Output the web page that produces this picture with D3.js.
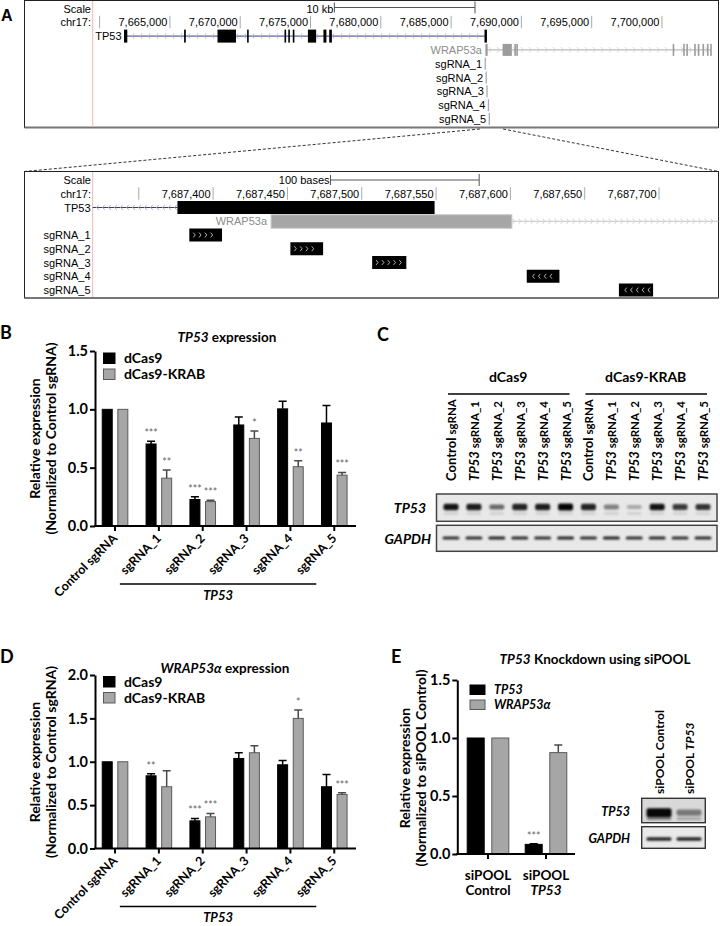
<!DOCTYPE html>
<html><head><meta charset="utf-8">
<script src="https://cdn.jsdelivr.net/npm/d3@7"></script>
<style>body{margin:0;background:#fff}svg{display:block}</style>
</head><body><svg id="c" width="720" height="926"></svg>
<script>
// ================= DATA =================
// Panel A – genome browser (top, 10 kb view)
const topWindow = [7659508, 7704020];
const topTicks = [7660000,7665000,7670000,7675000,7680000,7685000,7690000,7695000,7700000];
const topTickLabels = ["","7,665,000","7,670,000","7,675,000","7,680,000","7,685,000","7,690,000","7,695,000","7,700,000"];
const topScaleBar = [7676700, 7686700];
const topScaleLabel = "10 kb";
const tp53Span = [7661735, 7687549];
const tp53Exons = [[7661735,7661970],[7666010,7666130],[7668385,7669700],[7670490,7670590],[7673150,7673240],[7673420,7673500],[7673740,7673820],[7674815,7675400],[7675920,7676130],[7676330,7676520],[7687376,7687549]];
const wrapSpan = [7687439, 7703500];
const wrapExons = [[7687439,7687601],[7688660,7689320],[7689500,7689580],[7689640,7689720],[7700760,7700830],[7701510,7701570],[7701730,7701790],[7702290,7702350],[7702550,7702610],[7702880,7702940],[7703200,7703260],[7703430,7703500]];
const geneNames = ["TP53","WRAP53a"];
const sgNames = ["sgRNA_1","sgRNA_2","sgRNA_3","sgRNA_4","sgRNA_5"];
const sgStarts = [7687384,7687452,7687507,7687611,7687673];
const sgEnds = [7687406,7687474,7687530,7687633,7687696];
const sgStrand = [1,1,1,-1,-1];
const connectorPos = [7687050, 7688700];
// Panel A – zoomed view (100 bases)
const zoomWindow = [7687319, 7687740];
const zoomTicks = [7687350,7687400,7687450,7687500,7687550,7687600,7687650,7687700];
const zoomTickLabels = ["","7,687,400","7,687,450","7,687,500","7,687,550","7,687,600","7,687,650","7,687,700"];
const zoomScaleBar = [7687479, 7687579];
const zoomScaleLabel = "100 bases";
const zoomTP53Exon = [7687376, 7687549];
const zoomWrapExon = [7687439, 7687601];

// Panels B & D – qPCR bars
const barCats = ["Control","sgRNA_1","sgRNA_2","sgRNA_3","sgRNA_4","sgRNA_5"];
const barLabels = ["Control  sgRNA","sgRNA_1","sgRNA_2","sgRNA_3","sgRNA_4","sgRNA_5"];
const seriesNames = ["dCas9","dCas9-KRAB"];
const bTicks = [0,0.5,1.0,1.5];
const tp53Cas9 = [1.0,0.703,0.227,0.866,1.004,0.883];
const tp53Cas9Err = [0,0.023,0.023,0.069,0.066,0.149];
const tp53Cas9Sig = ["","***","***","","",""];
const tp53Krab = [1.0,0.410,0.209,0.751,0.508,0.436];
const tp53KrabErr = [0,0.069,0.012,0.063,0.051,0.023];
const tp53KrabSig = ["","**","***","*","**","***"];
const dTicks = [0,0.5,1.0,1.5,2.0];
const wrapCas9 = [1.0,0.838,0.319,1.038,0.965,0.712];
const wrapCas9Err = [0,0.024,0.027,0.066,0.050,0.142];
const wrapCas9Sig = ["","**","***","","",""];
const wrapKrab = [1.0,0.712,0.365,1.104,1.500,0.623];
const wrapKrabErr = [0,0.184,0.039,0.081,0.096,0.019];
const wrapKrabSig = ["","","***","","*","***"];

// Panel C – western blot
const cGroups = ["dCas9","dCas9-KRAB"];
const cLaneGene = ["Control","TP53","TP53","TP53","TP53","TP53"];
const cLaneGuide = ["sgRNA","sgRNA_1","sgRNA_2","sgRNA_3","sgRNA_4","sgRNA_5"];
const cTP53Band = [0.92,0.88,0.55,0.85,0.88,0.98,0.85,0.45,0.28,0.92,0.75,0.78];
const cGapdhBand = [0.8,0.8,0.85,0.82,0.8,0.85,0.8,0.85,0.8,0.82,0.8,0.82];

// Panel E – siPOOL
const eCats = ["siPOOL Control","siPOOL TP53"];
const eSeries = ["TP53","WRAP53α"];
const eTicks = [0,0.5,1.0,1.5];
const eTP53 = [1.0,0.083];
const eTP53Err = [0,0.006];
const eTP53Sig = ["","***"];
const eWrap = [1.0,0.874];
const eWrapErr = [0,0.066];
const eWrapSig = ["",""];
const eTP53Band = [0.97,0.45];
const eGapdhBand = [0.85,0.85];

// ================= DRAW =================
const FONT = "Lato, 'Open Sans', sans-serif";
const UFONT = "'Liberation Sans', Arial, sans-serif";
const svg = d3.select("#c");
svg.append("rect").attr("width",720).attr("height",926).attr("fill","#fff");
const defs = svg.append("defs");
defs.append("filter").attr("id","blur").attr("x","-50%").attr("y","-150%").attr("width","200%").attr("height","400%")
  .append("feGaussianBlur").attr("stdDeviation",0.9);

function chevrons(g, xa, xb, y, dir, color, step, h, sw) {
  const xs = d3.range(xa + step/2, xb - 1, step);
  const w = h*0.8;
  g.append("path")
    .attr("d", xs.map(x => dir < 0 ? `M${x+w},${y-h}L${x},${y}L${x+w},${y+h}` : `M${x-w},${y-h}L${x},${y}L${x-w},${y+h}`).join(""))
    .attr("fill","none").attr("stroke",color).attr("stroke-width",sw||1);
}

// ---------- Panel A ----------
svg.append("text").attr("x",1).attr("y",21).attr("font-family",UFONT).attr("font-weight",700).attr("font-size",16).text("A");
const A = svg.append("g").attr("font-family",UFONT).attr("font-size",11);
const LX = 24.5, RX = 718.5, PX = 92.7;

const xTop = d3.scaleLinear().domain(topWindow).range([PX, RX]);
const rowT = i => 8.5 + 13.8*i;
A.append("rect").attr("x",LX).attr("y",0.5).attr("width",RX-LX).attr("height",127).attr("fill","none").attr("stroke","#222");
A.append("line").attr("x1",LX).attr("x2",RX).attr("y1",127.5).attr("y2",127.5).attr("stroke","#777").attr("stroke-width",2);
A.append("line").attr("x1",PX).attr("x2",PX).attr("y1",1).attr("y2",127).attr("stroke","#f4b6b6");
A.append("text").attr("x",91).attr("y",rowT(0)+4).attr("text-anchor","end").text("Scale");
{
  const a = xTop(topScaleBar[0]), b = xTop(topScaleBar[1]), yy = rowT(0)-1;
  A.append("path").attr("d",`M${a},${yy-5}V${yy+5}M${a},${yy}H${b}M${b},${yy-6}V${yy+6}`).attr("stroke","#555").attr("fill","none");
  A.append("text").attr("x",a-1).attr("y",rowT(0)+4).attr("text-anchor","end").text(topScaleLabel);
}
A.append("text").attr("x",91).attr("y",rowT(1)+4).attr("text-anchor","end").text("chr17:");
A.selectAll("line.tt").data(topTicks).join("line").attr("class","tt")
  .attr("x1",d=>xTop(d)).attr("x2",d=>xTop(d)).attr("y1",rowT(1)-6.5).attr("y2",rowT(1)+6).attr("stroke","#aaa");
A.selectAll("text.tl").data(topTicks).join("text").attr("class","tl")
  .attr("x",d=>xTop(d)-2.5).attr("y",rowT(1)+4).attr("text-anchor","end").text((d,i)=>topTickLabels[i]);
{
  const yy = rowT(2), a = xTop(tp53Span[0]), b = xTop(tp53Span[1]);
  A.append("line").attr("x1",a).attr("x2",b).attr("y1",yy).attr("y2",yy).attr("stroke","#3a3a78");
  chevrons(A, a+4, b, yy, -1, "#b2b2ea", 8, 2.6, 1);
  A.selectAll("rect.tx").data(tp53Exons).join("rect").attr("class","tx")
    .attr("x",d=>xTop(d[0])).attr("width",d=>Math.max(1.6, xTop(d[1])-xTop(d[0])))
    .attr("y",yy-6.5).attr("height",13).attr("fill","#000");
  A.append("text").attr("x",a-2.5).attr("y",yy+4).attr("text-anchor","end").text(geneNames[0]);
}
{
  const yy = rowT(3), a = xTop(wrapSpan[0]), b = xTop(wrapSpan[1]);
  A.append("line").attr("x1",a).attr("x2",b).attr("y1",yy).attr("y2",yy).attr("stroke","#aaa");
  chevrons(A, a+2, b, yy, 1, "#cfcfcf", 8, 2.6, 1);
  A.selectAll("rect.wx").data(wrapExons).join("rect").attr("class","wx")
    .attr("x",d=>xTop(d[0])).attr("width",d=>Math.max(1.6, xTop(d[1])-xTop(d[0])))
    .attr("y",yy-6).attr("height",12).attr("fill","#9c9c9c");
  A.append("text").attr("x",a-3.5).attr("y",yy+4).attr("text-anchor","end").attr("fill","#8c8c8c").text(geneNames[1]);
}
sgNames.forEach((n,i)=>{
  const yy = rowT(4+i), a = xTop(sgStarts[i]);
  A.append("rect").attr("x",a).attr("width",Math.max(1.3, xTop(sgEnds[i])-a)).attr("y",yy-6).attr("height",12).attr("fill","#aaa");
  A.append("text").attr("x",a-2.5).attr("y",yy+4).attr("text-anchor","end").text(n);
});
{
  const yTopB = 129, yBotT = 171.5;
  A.append("path").attr("d",`M${xTop(connectorPos[0])},${yTopB}L${LX},${yBotT}M${xTop(connectorPos[1])},${yTopB}L${RX},${yBotT}`)
    .attr("stroke","#333").attr("stroke-dasharray","3,2").attr("fill","none");
}
const xBot = d3.scaleLinear().domain(zoomWindow).range([PX, RX]);
const rowB = i => 180 + 13.75*i;
A.append("rect").attr("x",LX).attr("y",171.5).attr("width",RX-LX).attr("height",126.5).attr("fill","none").attr("stroke","#222");
A.append("line").attr("x1",LX).attr("x2",RX).attr("y1",298).attr("y2",298).attr("stroke","#777").attr("stroke-width",2);
A.append("line").attr("x1",PX).attr("x2",PX).attr("y1",172).attr("y2",297).attr("stroke","#f4b6b6");
A.append("text").attr("x",91).attr("y",rowB(0)+4).attr("text-anchor","end").text("Scale");
{
  const a = xBot(zoomScaleBar[0]), b = xBot(zoomScaleBar[1]), yy = rowB(0);
  A.append("path").attr("d",`M${a},${yy-5}V${yy+5}M${a},${yy}H${b}M${b},${yy-6}V${yy+6}`).attr("stroke","#555").attr("fill","none");
  A.append("text").attr("x",a-1).attr("y",yy+4).attr("text-anchor","end").text(zoomScaleLabel);
}
A.append("text").attr("x",91).attr("y",rowB(1)+4).attr("text-anchor","end").text("chr17:");
A.selectAll("line.bt").data(zoomTicks).join("line").attr("class","bt")
  .attr("x1",d=>xBot(d)).attr("x2",d=>xBot(d)).attr("y1",rowB(1)-6.5).attr("y2",rowB(1)+6).attr("stroke","#aaa");
A.selectAll("text.bl").data(zoomTicks).join("text").attr("class","bl")
  .attr("x",d=>xBot(d)-2.5).attr("y",rowB(1)+4).attr("text-anchor","end").text((d,i)=>zoomTickLabels[i]);
{
  const yy = rowB(2), a = xBot(zoomTP53Exon[0]), b = xBot(zoomTP53Exon[1]);
  A.append("line").attr("x1",PX).attr("x2",a).attr("y1",yy).attr("y2",yy).attr("stroke","#3a3a78");
  chevrons(A, PX+1, a, yy, -1, "#b2b2ea", 6, 2.6, 1);
  A.append("rect").attr("x",a).attr("width",b-a).attr("y",yy-6.5).attr("height",13).attr("fill","#000");
  A.append("text").attr("x",90.5).attr("y",yy+4).attr("text-anchor","end").text(geneNames[0]);
}
{
  const yy = rowB(3), a = xBot(zoomWrapExon[0]), b = xBot(zoomWrapExon[1]);
  A.append("line").attr("x1",b).attr("x2",RX).attr("y1",yy).attr("y2",yy).attr("stroke","#c4c4c4");
  chevrons(A, b, RX, yy, 1, "#d2d2d2", 6, 2.6, 1);
  A.append("rect").attr("x",a).attr("width",b-a).attr("y",yy-6.5).attr("height",13.5).attr("fill","#a6a6a6").attr("stroke","#c8c8c8");
  A.append("text").attr("x",a-4).attr("y",yy+4).attr("text-anchor","end").attr("fill","#8c8c8c").text(geneNames[1]);
}
sgNames.forEach((n,i)=>{
  const yy = rowB(4+i), a = xBot(sgStarts[i]), b = xBot(sgEnds[i]);
  A.append("rect").attr("x",a).attr("width",b-a).attr("y",yy-6.5).attr("height",13).attr("fill","#000");
  chevrons(A, a+3, b-3, yy, sgStrand[i], "#ddd", 5.8, 2.4, 0.8);
  A.append("text").attr("x",90.5).attr("y",yy+4).attr("text-anchor","end").text(n);
});

// ---------- bar chart helper ----------
function barPanel(o) {
  const g = svg.append("g").attr("font-family",FONT);
  const x0 = d3.scaleBand().domain(o.cats).range(o.xRange);
  const x1 = d3.scaleBand().domain(o.series).range(o.inner).paddingInner(o.innerPad);
  const y = d3.scaleLinear().domain(o.yDomain).range(o.yRange);
  const fills = ["#000","#a6a6a6"], strokes = ["#000","#5a5a5a"], errC = ["#000","#4a4a4a"];
  o.series.forEach((s,si)=>{
    const data = o.cats.map((c,i)=>({c, v:o.vals[si][i], e:o.errs[si][i], sig:o.sigs[si][i]}));
    const gs = g.append("g");
    gs.selectAll("rect").data(data).join("rect")
      .attr("x",d=>x0(d.c)+x1(s)+0.5).attr("y",d=>y(d.v)).attr("width",x1.bandwidth()-1)
      .attr("height",d=>y(0)-y(d.v)).attr("fill",fills[si]).attr("stroke",strokes[si]).attr("stroke-width",1);
    gs.selectAll("path.err").data(data.filter(d=>d.e>0)).join("path").attr("class","err")
      .attr("d",d=>{const cx=x0(d.c)+x1(s)+x1.bandwidth()/2, yt=y(d.v+d.e); return `M${cx},${y(d.v)}V${yt}M${cx-4},${yt}H${cx+4}`;})
      .attr("stroke",errC[si]).attr("stroke-width",1.5).attr("fill","none");
    gs.selectAll("text.sig").data(data.filter(d=>d.sig)).join("text").attr("class","sig")
      .attr("x",d=>x0(d.c)+x1(s)+x1.bandwidth()/2).attr("y",d=>y(d.v+d.e)-4)
      .attr("text-anchor","middle").attr("font-size",10.5).attr("fill","#666").text(d=>d.sig);
  });
  const ya = g.append("g").attr("transform",`translate(${o.yAxisX},0)`)
    .call(d3.axisLeft(y).tickValues(o.yTicks).tickFormat(d3.format(".1f")).tickSize(5).tickSizeOuter(0).tickPadding(2));
  ya.select(".domain").attr("stroke-width",2);
  ya.selectAll(".tick line").attr("stroke-width",2);
  ya.selectAll("text").attr("font-family",FONT).attr("font-size",14.5).attr("font-weight",700);
  const xa = g.append("g").attr("transform",`translate(0,${y(0)})`).call(d3.axisBottom(x0).tickSize(5).tickFormat(""));
  xa.select(".domain").remove();
  xa.selectAll(".tick line").attr("stroke-width",2);
  g.append("line").attr("x1",o.yAxisX-1).attr("x2",o.xEnd).attr("y1",y(0)).attr("y2",y(0)).attr("stroke","#000").attr("stroke-width",2);
  return {g, x0, x1, y};
}
function legend(g, x, ys, names, italic, sq, fs) {
  names.forEach((n,i)=>{
    g.append("rect").attr("x",x).attr("y",ys[i]).attr("width",sq[0]).attr("height",sq[1])
      .attr("fill",i===0?"#000":"#a6a6a6").attr("stroke",i===0?"#000":"#5a5a5a");
    g.append("text").attr("x",x+sq[0]+9).attr("y",ys[i]+sq[1]/2+fs*0.36).attr("font-size",fs).attr("font-weight",700)
      .attr("font-style",italic?"italic":null).text(n);
  });
}
function yLabel(g, x, yc, l1, l2) {
  g.append("text").attr("transform",`translate(${x},${yc}) rotate(-90)`).attr("text-anchor","middle")
    .attr("font-size",14).attr("font-weight",700).text(l1);
  g.append("text").attr("transform",`translate(${x+15.5},${yc}) rotate(-90)`).attr("text-anchor","middle")
    .attr("font-size",14).attr("font-weight",700).text(l2);
}
function groupPanel(o) {
  const P = barPanel(o);
  const {g,x0,y} = P;
  const c = c0 => x0(c0)+x0.bandwidth()/2;
  g.selectAll("text.xl").data(o.cats).join("text").attr("class","xl")
    .attr("transform",d=>`translate(${c(d)+3},${y(0)+13}) rotate(-45)`)
    .attr("text-anchor","end").attr("font-size",12.5).attr("font-weight",700).text((d,i)=>barLabels[i]);
  const bx1 = c(o.cats[1])-39, bx2 = c(o.cats[5])-18, by = y(0)+58;
  g.append("line").attr("x1",bx1).attr("x2",bx2).attr("y1",by).attr("y2",by).attr("stroke","#000").attr("stroke-width",1.3);
  g.append("text").attr("x",(bx1+bx2)/2).attr("y",by+15.5).attr("text-anchor","middle").attr("font-size",13)
    .attr("font-weight",700).attr("font-style","italic").text("TP53");
  return P;
}

// ---------- Panel B ----------
{
  const P = groupPanel({cats:barCats, series:seriesNames, vals:[tp53Cas9,tp53Krab], errs:[tp53Cas9Err,tp53KrabErr],
    sigs:[tp53Cas9Sig,tp53KrabSig], xRange:[93.1,356.2], inner:[8.63,35.23], innerPad:0.295,
    yDomain:[0,1.5], yRange:[526,351], yTicks:bTicks, yAxisX:95, xEnd:356});
  const g = P.g;
  g.append("text").attr("x",0).attr("y",339).attr("font-size",18).attr("font-weight",700).text("B");
  const t = g.append("text").attr("x",227).attr("y",342).attr("text-anchor","middle").attr("font-size",13.5).attr("font-weight",700);
  t.append("tspan").attr("font-style","italic").text("TP53");
  t.append("tspan").text(" expression");
  legend(g, 103.5, [353,369], seriesNames, false, [11.5,10.5], 14);
  yLabel(g, 40, 438.5, "Relative expression", "(Normalized to Control sgRNA)");
}
// ---------- Panel D ----------
{
  const P = groupPanel({cats:barCats, series:seriesNames, vals:[wrapCas9,wrapKrab], errs:[wrapCas9Err,wrapKrabErr],
    sigs:[wrapCas9Sig,wrapKrabSig], xRange:[93.1,356.2], inner:[8.63,35.23], innerPad:0.295,
    yDomain:[0,2.0], yRange:[848.5,675], yTicks:dTicks, yAxisX:95, xEnd:356});
  const g = P.g;
  g.append("text").attr("x",0).attr("y",663).attr("font-size",18).attr("font-weight",700).text("D");
  const t = g.append("text").attr("x",225).attr("y",673).attr("text-anchor","middle").attr("font-size",13.5).attr("font-weight",700);
  t.append("tspan").attr("font-style","italic").text("WRAP53α");
  t.append("tspan").text(" expression");
  legend(g, 103.5, [676.5,692.5], seriesNames, false, [11.5,10.5], 14);
  yLabel(g, 40, 762, "Relative expression", "(Normalized to Control sgRNA)");
}
// ---------- Panel E ----------
{
  const P = barPanel({cats:eCats, series:eSeries, vals:[eTP53,eWrap], errs:[eTP53Err,eWrapErr], sigs:[eTP53Sig,eWrapSig],
    xRange:[459,575], inner:[7.7,50.3], innerPad:0.268, yDomain:[0,1.5], yRange:[854,680], yTicks:eTicks, yAxisX:457.3, xEnd:575});
  const {g,x0,y} = P;
  g.append("text").attr("x",391).attr("y",663).attr("font-size",18).attr("font-weight",700).text("E");
  const t = g.append("text").attr("x",595).attr("y",664).attr("text-anchor","middle").attr("font-size",13.5).attr("font-weight",700);
  t.append("tspan").attr("font-style","italic").text("TP53");
  t.append("tspan").text(" Knockdown using siPOOL");
  legend(g, 470, [685,700], eSeries, true, [15,9.5], 12.5);
  yLabel(g, 410, 768, "Relative expression", "(Normalized to siPOOL  Control)");
  eCats.forEach((c,i)=>{
    const cx = x0(c)+x0.bandwidth()/2;
    g.append("text").attr("x",cx).attr("y",880).attr("text-anchor","middle").attr("font-size",13.5).attr("font-weight",700).text("siPOOL");
    g.append("text").attr("x",cx).attr("y",894.5).attr("text-anchor","middle").attr("font-size",13.5).attr("font-weight",700)
      .attr("font-style",i===1?"italic":null).text(c.replace("siPOOL ",""));
  });
  const lanes = d3.scalePoint().domain(eCats).range([659,689]);
  eCats.forEach(c=>{
    const tx = g.append("text").attr("transform",`translate(${lanes(c)+4.5},794) rotate(-90)`).attr("font-size",12).attr("font-weight",700);
    const parts = c.split(" ");
    tx.append("tspan").text(parts[0]+" ");
    tx.append("tspan").attr("font-style",parts[1]==="TP53"?"italic":null).text(parts[1]);
  });
  const bx = lanes(eCats[0])-17.3, bw = lanes(eCats[1])-lanes(eCats[0])+33.6;
  g.append("rect").attr("x",bx).attr("y",798.3).attr("width",bw).attr("height",24.4).attr("fill","#d9d9d9").attr("stroke","#333").attr("stroke-width",1.4);
  g.append("rect").attr("x",bx).attr("y",826.7).attr("width",bw).attr("height",21.6).attr("fill","#e9e9e9").attr("stroke","#333").attr("stroke-width",1.4);
  const bands = g.append("g").attr("filter","url(#blur)");
  eCats.forEach((c,i)=>{
    const cx = lanes(c);
    bands.append("rect").attr("x",cx-12.5).attr("y",812.7-2-2.5*eTP53Band[i]).attr("width",25).attr("height",4+5*eTP53Band[i]).attr("rx",2)
      .attr("fill","#000").attr("opacity",eTP53Band[i]);
    bands.append("rect").attr("x",cx-12).attr("y",817.5).attr("width",24).attr("height",2.5).attr("fill","#000").attr("opacity",0.35*eTP53Band[i]+0.1);
    bands.append("rect").attr("x",cx-12.5).attr("y",837.2).attr("width",25).attr("height",3.6).attr("rx",1.5).attr("fill","#000").attr("opacity",eGapdhBand[i]);
  });
  g.append("text").attr("x",630).attr("y",816).attr("text-anchor","end").attr("font-size",12.5).attr("font-weight",700).attr("font-style","italic").text("TP53");
  g.append("text").attr("x",630).attr("y",843).attr("text-anchor","end").attr("font-size",12.5).attr("font-weight",700).attr("font-style","italic").text("GAPDH");
}
// ---------- Panel C ----------
{
  const g = svg.append("g").attr("font-family",FONT);
  g.append("text").attr("x",377).attr("y",341).attr("font-size",18).attr("font-weight",700).text("C");
  const laneIds = [];
  cGroups.forEach((gr,gi)=>cLaneGene.forEach((ge,li)=>laneIds.push({gi,li,id:gr+"|"+li})));
  const lane = d3.scalePoint().domain(laneIds.map(d=>d.id)).range([451,703]);
  cGroups.forEach((gr,gi)=>{
    const a = lane(gr+"|0"), b = lane(gr+"|"+(cLaneGene.length-1));
    g.append("text").attr("x",(a+b)/2).attr("y",381.5).attr("text-anchor","middle").attr("font-size",14).attr("font-weight",700).text(gr);
    g.append("line").attr("x1",a-3).attr("x2",b+4).attr("y1",394).attr("y2",394).attr("stroke","#000").attr("stroke-width",1.3);
  });
  laneIds.forEach(d=>{
    const tx = g.append("text").attr("transform",`translate(${lane(d.id)+5},481) rotate(-90)`).attr("font-size",13).attr("font-weight",700);
    tx.append("tspan").attr("font-style",cLaneGene[d.li]==="TP53"?"italic":null).text(cLaneGene[d.li]+" ");
    tx.append("tspan").attr("font-size",11.5).text(cLaneGuide[d.li]);
  });
  const x0 = lane(laneIds[0].id)-14.5, x1 = lane(laneIds[laneIds.length-1].id)+14;
  g.append("rect").attr("x",x0).attr("y",494).attr("width",x1-x0).attr("height",27.3).attr("fill","#e8e8e8").attr("stroke","#444").attr("stroke-width",1.5);
  g.append("rect").attr("x",x0).attr("y",525.3).attr("width",x1-x0).attr("height",26).attr("fill","#e8e8e8").attr("stroke","#444").attr("stroke-width",1.5);
  const bands = g.append("g").attr("filter","url(#blur)");
  laneIds.forEach((d,i)=>{
    const cx = lane(d.id), v = cTP53Band[i];
    bands.append("rect").attr("x",cx-7.5).attr("y",507-1.5-2*v).attr("width",15).attr("height",3+4*v).attr("rx",2)
      .attr("fill","#000").attr("opacity",v);
    bands.append("rect").attr("x",cx-7).attr("y",512.5).attr("width",14).attr("height",2).attr("fill","#000").attr("opacity",0.15);
    bands.append("rect").attr("x",cx-8.5).attr("y",536.6).attr("width",17).attr("height",3).attr("rx",1.5)
      .attr("fill","#000").attr("opacity",cGapdhBand[i]);
  });
  g.append("text").attr("x",426).attr("y",513).attr("text-anchor","end").attr("font-size",14).attr("font-weight",700).attr("font-style","italic").text("TP53");
  g.append("text").attr("x",431).attr("y",543.5).attr("text-anchor","end").attr("font-size",14).attr("font-weight",700).attr("font-style","italic").text("GAPDH");
}
</script></body></html>
